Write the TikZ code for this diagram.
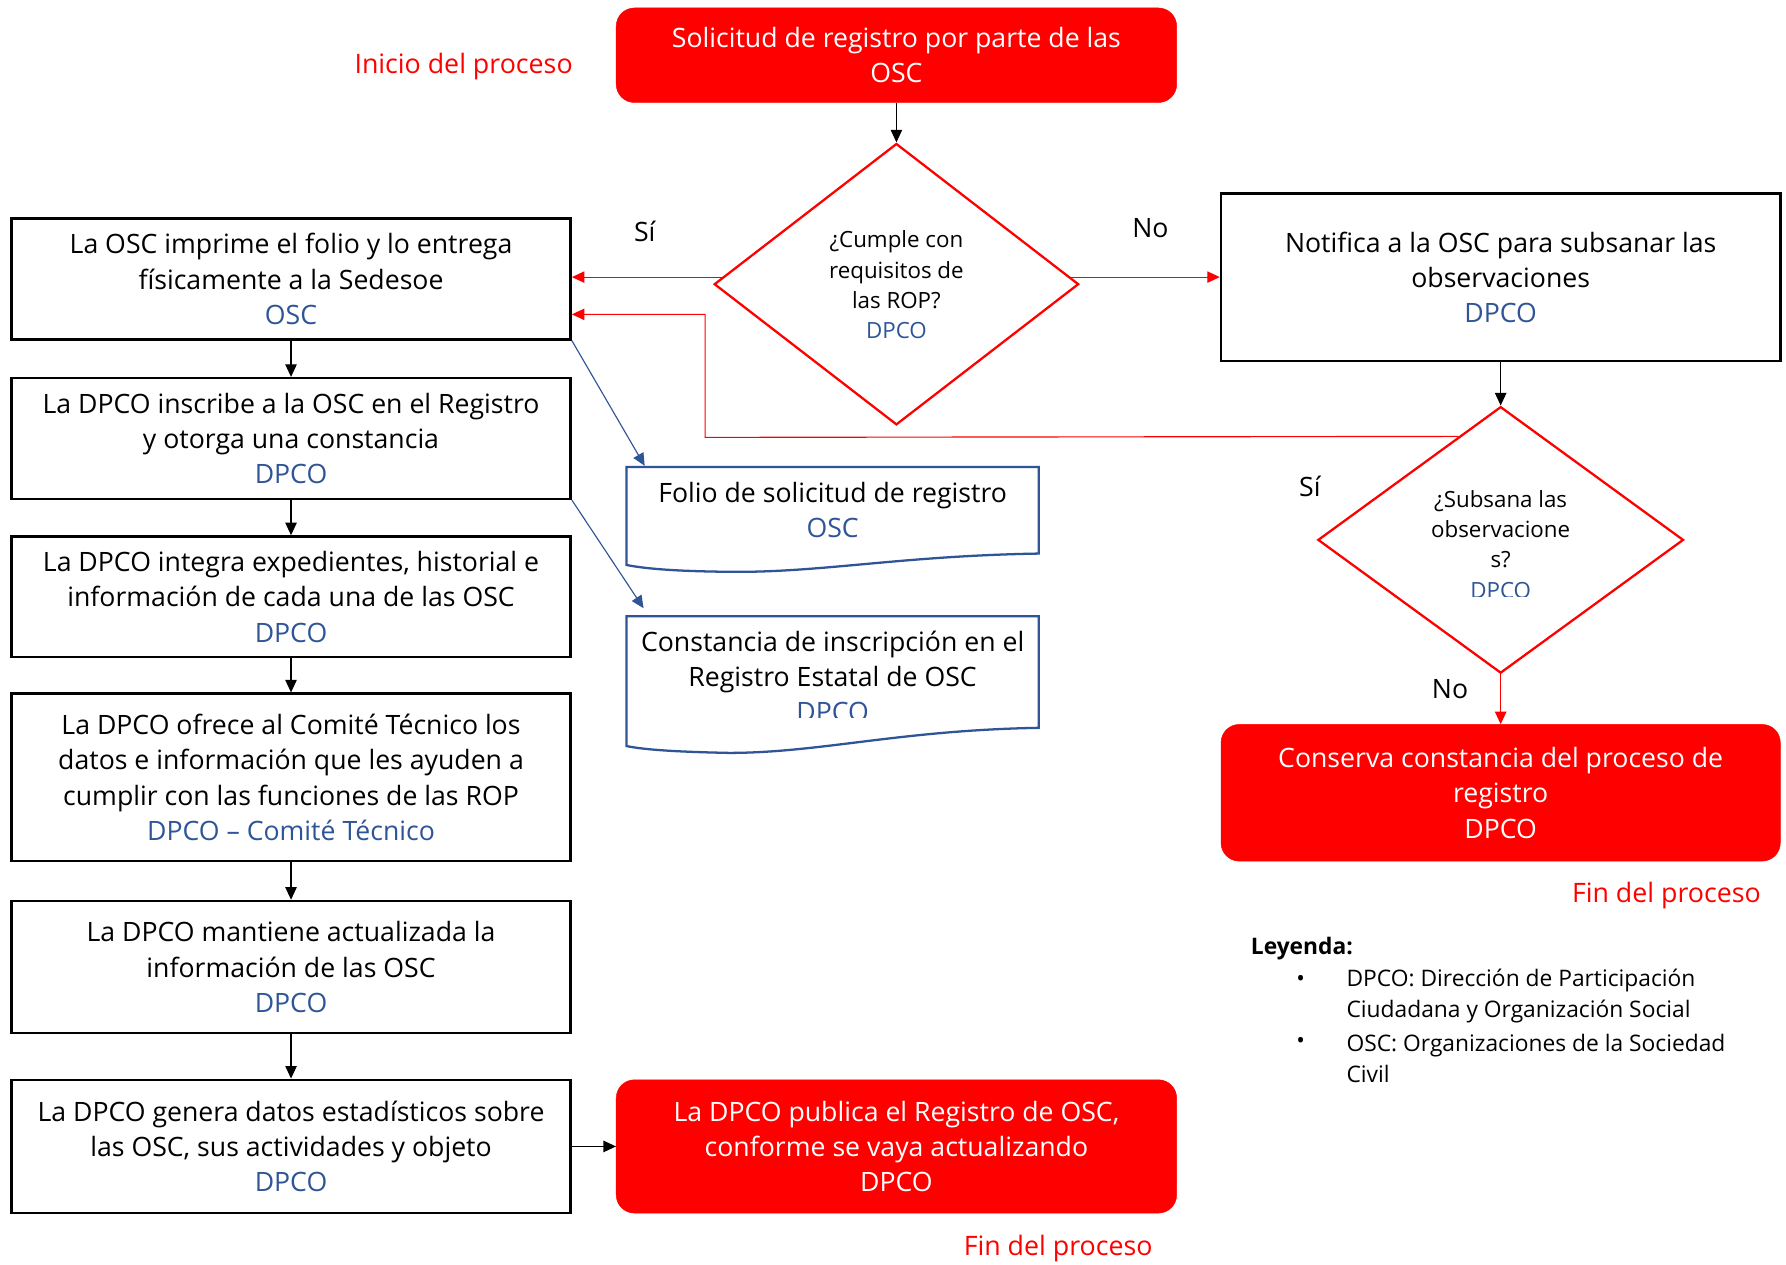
\documentclass[tikz,border=0pt]{standalone}
\usepackage{fontspec}
\setmainfont{Open Sans}
\usetikzlibrary{arrows.meta,shapes.geometric,calc}
\definecolor{ored}{HTML}{FF0000}
\definecolor{oblue}{HTML}{2F5597}
\begin{document}
\begin{tikzpicture}[x=1pt,y=-1pt,
  every node/.style={font=\fontsize{23.4}{31}\selectfont, align=center, inner sep=0pt},
  box/.style={draw=black, line width=2.2pt, minimum width=491pt},
  term/.style={fill=ored, draw=ored, rounded corners=16pt, text=white, minimum width=492pt},
  dec/.style={diamond, draw=ored, line width=2pt, fill=white},
  doc/.style={draw=oblue, line width=2pt},
  arr/.style={-{Triangle[length=11pt,width=10pt]}, line width=1pt},
  rarr/.style={arr, draw=ored, color=ored},
  barr/.style={arr, draw=oblue, color=oblue},
  rtext/.style={text=ored, font=\fontsize{23.5}{31}\selectfont},
  dtext/.style={font=\fontsize{19.6}{26.5}\selectfont},
  ltext/.style={font=\fontsize{20}{27}\selectfont, align=left, anchor=west},
]
\path[use as bounding box, fill=white] (0,0) rectangle (1568,1110);

% left column
\node[box, minimum height=106pt] (b1) at (255.5,245) {La OSC imprime el folio y lo entrega\\físicamente a la Sedesoe\\\textcolor{oblue}{OSC}};
\node[box, minimum height=106pt] (b2) at (255.5,385) {La DPCO inscribe a la OSC en el Registro\\y otorga una constancia\\\textcolor{oblue}{DPCO}};
\node[box, minimum height=106pt] (b3) at (255.5,524) {La DPCO integra expedientes, historial e\\información de cada una de las OSC\\\textcolor{oblue}{DPCO}};
\node[box, minimum height=147pt] (b4) at (255.5,682.5) {La DPCO ofrece al Comité Técnico los\\datos e información que les ayuden a\\cumplir con las funciones de las ROP\\\textcolor{oblue}{DPCO – Comité Técnico}};
\node[box, minimum height=116pt] (b5) at (255.5,849) {La DPCO mantiene actualizada la\\información de las OSC\\\textcolor{oblue}{DPCO}};
\node[box, minimum height=117pt] (b6) at (255.5,1006.5) {La DPCO genera datos estadísticos sobre\\las OSC, sus actividades y objeto\\\textcolor{oblue}{DPCO}};

% terminals
\node[term, minimum height=83pt] (t1) at (787,48.5) {Solicitud de registro por parte de las\\OSC};
\node[term, minimum height=117pt] (t3) at (787,1006.5) {La DPCO publica el Registro de OSC,\\conforme se vaya actualizando\\DPCO};
\node[term, minimum width=491pt, minimum height=120pt] (t2) at (1317.5,696) {Conserva constancia del proceso de\\registro\\DPCO};

% notify box
\node[box, minimum height=147pt] (n1) at (1317.5,243.5) {Notifica a la OSC para subsanar las\\observaciones\\\textcolor{oblue}{DPCO}};

% decisions
\node[dec, minimum width=320pt, minimum height=247pt] (d1) at (787,249.5) {};
\node[dtext] (d1t) at (787,250) {¿Cumple con\\requisitos de\\las ROP?\\\textcolor{oblue}{DPCO}};
\node[dec, minimum width=321pt, minimum height=234pt] (d2) at (1317.5,474) {};
\begin{scope}
\clip (1157,357) rectangle (1478,524);
\node[dtext] (d2t) at (1317.5,478) {¿Subsana las\\observacione\\s?\\\textcolor{oblue}{DPCO}};
\end{scope}

% documents
\draw[doc] (550,410) -- (912,410) -- (912,486) .. controls (790,488) and (720,503) .. (640,502) .. controls (590,501.5) and (565,499) .. (550,496) -- cycle;
\node (f1) at (731,447.5) {Folio de solicitud de registro\\\textcolor{oblue}{OSC}};
\coordinate (f1in) at (566,409);
\draw[doc] (550,541) -- (912,541) -- (912,639) .. controls (790,641) and (720,661) .. (640,661) .. controls (590,660) and (565,658) .. (550,655) -- cycle;
\begin{scope}
\clip (550,541) rectangle (912,630);
\node (c1) at (731,594) {Constancia de inscripción en el\\Registro Estatal de OSC\\\textcolor{oblue}{DPCO}};
\end{scope}
\coordinate (c1in) at (565,534);

% labels
\node[rtext] (ini) at (407,58) {Inicio del proceso};
\node (si1) at (566,203) {Sí};
\node (no1) at (1010,200) {No};
\node (si2) at (1150,427) {Sí};
\node (no2) at (1273,605) {No};
\node[rtext] (fin1) at (1463,786) {Fin del proceso};
\node[rtext] (fin2) at (929,1096) {Fin del proceso};

% legend
\node[ltext, font=\fontsize{20}{27}\selectfont\bfseries] (ley) at (1098,833) {Leyenda:};
\node[ltext] (bu1) at (1138,861) {•};
\node[ltext] (le1) at (1182,874.5) {DPCO: Dirección de Participación\\Ciudadana y Organización Social};
\node[ltext] (bu2) at (1138,916) {•};
\node[ltext] (le2) at (1182,929) {OSC: Organizaciones de la Sociedad\\Civil};

% connectors
\draw[arr] (t1) -- (d1.north);
\coordinate (d1w) at ($(d1.west)!0.05!(d1.north)$);
\coordinate (d1e) at ($(d1.east)!0.05!(d1.north)$);
\draw[rarr] (d1w) -- (b1.east |- d1w);
\draw[rarr] (d1e) -- (n1.west |- d1e);
\draw[arr] (n1) -- (d2.north);
\coordinate (d2out) at ($(d2.north)!0.23!(d2.west)$);
\draw[rarr] (d2out) -- (619,384) |- ($(b1.east)+(0,31)$);
\draw[rarr] (d2.south) -- (t2.north);
\draw[arr] (b1) -- (b2);
\draw[arr] (b2) -- (b3);
\draw[arr] (b3) -- (b4);
\draw[arr] (b4) -- (b5);
\draw[arr] (b5) -- (b6);
\draw[arr] (b6) -- (t3);
\draw[barr] (b1.south east) -- (f1in);
\draw[barr] (b2.south east) -- (c1in);
\end{tikzpicture}
\end{document}
